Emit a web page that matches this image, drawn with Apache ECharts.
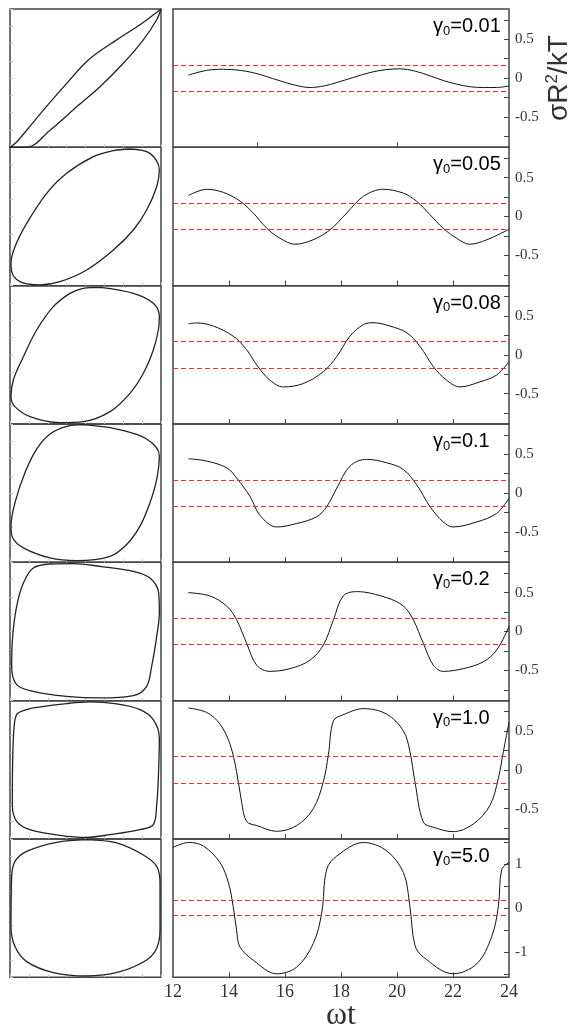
<!DOCTYPE html>
<html>
<head>
<meta charset="utf-8">
<script src="https://cdn.jsdelivr.net/npm/echarts@6/dist/echarts.min.js"></script>
<style>
html,body{margin:0;padding:0;background:#fff;}
#main{width:576px;height:1024px;}
</style>
</head>
<body>
<div id="main"></div>
<script>
// amplitude of each row
var gammaLabels = ['0.01', '0.05', '0.08', '0.1', '0.2', '1.0', '5.0'];
// half range of the stress axis per row
var yLimits = [0.89, 0.89, 0.89, 0.89, 0.89, 0.89, 1.58];
var redLevel = 0.17;
var yTicksSmall = [-0.75, -0.5, -0.25, 0, 0.25, 0.5, 0.75];
var yLabelsSmall = [-0.5, 0, 0.5];
var yTicksBig = [-1.5, -1, -0.5, 0, 0.5, 1, 1.5];
var yLabelsBig = [-1, 0, 1];
var xTicksTop = [15, 20];
var xTicks = [14, 16, 18, 20, 22];

// stress vs wt
var ts1 = [[12.55,0.04],[13.2,0.1],[13.8,0.115],[14.4,0.1],[14.87,0.07],[15.35,0.02],[15.82,-0.034],[16.36,-0.09],[16.89,-0.12],[17.4,-0.1],[17.85,-0.056],[18.45,0.01],[19.04,0.073],[19.6,0.11],[20.1,0.12],[20.65,0.09],[21.18,0.03],[21.65,-0.03],[22.13,-0.077],[22.6,-0.11],[23.08,-0.12],[23.55,-0.12],[24.0,-0.1]];
var ts2 = [[12.55,0.27],[13.2,0.35],[13.8,0.31],[14.4,0.196],[14.87,0.043],[15.35,-0.152],[15.82,-0.28],[16.36,-0.357],[17.0,-0.3],[17.6,-0.174],[18.2,0.043],[18.8,0.26],[19.51,0.35],[20.23,0.3],[20.7,0.196],[21.18,0.022],[21.65,-0.152],[22.13,-0.28],[22.6,-0.357],[23.2,-0.3],[24.0,-0.165]];
var ts3 = [[12.55,0.4],[12.85,0.41],[13.44,0.37],[14.15,0.24],[14.63,0.065],[14.99,-0.13],[15.46,-0.326],[15.94,-0.413],[16.65,-0.37],[17.37,-0.217],[17.85,-0.022],[18.32,0.24],[18.8,0.39],[19.15,0.413],[19.75,0.37],[20.35,0.283],[20.82,0.109],[21.3,-0.152],[21.77,-0.326],[22.25,-0.413],[22.96,-0.348],[23.56,-0.26],[24.0,-0.087]];
var ts4 = [[12.55,0.443],[13.2,0.413],[13.92,0.326],[14.27,0.196],[14.75,-0.043],[15.1,-0.283],[15.7,-0.435],[16.42,-0.391],[17.13,-0.304],[17.49,-0.174],[17.85,0.065],[18.32,0.348],[18.92,0.435],[19.63,0.391],[20.23,0.304],[20.7,0.109],[21.18,-0.174],[21.65,-0.37],[22.0,-0.435],[22.85,-0.37],[23.56,-0.26],[24.0,-0.065]];
var ts5 = [[12.55,0.5],[13.32,0.457],[13.92,0.326],[14.27,0.152],[14.63,-0.152],[14.99,-0.435],[15.46,-0.513],[16.18,-0.478],[16.89,-0.37],[17.37,-0.174],[17.73,0.152],[18.08,0.457],[18.56,0.513],[19.63,0.435],[20.23,0.326],[20.58,0.152],[20.94,-0.152],[21.3,-0.435],[21.65,-0.513],[22.37,-0.478],[23.08,-0.39],[23.56,-0.239],[24.0,0.065]];
var ts6 = [[12.55,0.796],[13.2,0.739],[13.68,0.587],[14.04,0.326],[14.27,-0.022],[14.45,-0.413],[14.63,-0.665],[14.99,-0.717],[15.7,-0.791],[16.42,-0.717],[17.01,-0.5],[17.37,-0.152],[17.55,0.196],[17.73,0.63],[18.08,0.709],[18.8,0.787],[19.63,0.717],[20.23,0.5],[20.46,0.239],[20.64,-0.152],[20.94,-0.674],[21.3,-0.739],[22.0,-0.796],[22.73,-0.696],[23.32,-0.457],[23.62,-0.109],[23.8,0.239],[24.0,0.609]];
var ts7 = [[12.0,1.385],[12.55,1.5],[13.08,1.42],[13.68,1.04],[13.98,0.577],[14.15,0.038],[14.27,-0.5],[14.39,-0.885],[14.87,-1.19],[15.7,-1.5],[16.42,-1.346],[17.01,-0.808],[17.31,-0.115],[17.49,0.885],[17.85,1.19],[18.8,1.5],[19.63,1.31],[20.23,0.808],[20.46,0.038],[20.64,-0.846],[20.94,-1.115],[22.0,-1.5],[22.85,-1.27],[23.38,-0.654],[23.62,0.038],[23.74,0.885],[24.0,1.04]];

// normalized stress vs normalized strain
var loop1 = [[1.0,1.0],[0.722,0.772],[0.413,0.554],[0.038,0.264],[-0.249,-0.075],[-0.558,-0.462],[-0.779,-0.753],[-0.912,-0.923],[-1.0,-1.0],[-0.779,-1.0],[-0.47,-0.753],[-0.117,-0.414],[0.192,-0.123],[0.501,0.215],[0.766,0.554],[0.943,0.845],[1.0,1.0]];
var loop2 = [[0.589,0.976],[0.854,0.913],[0.978,0.672],[0.943,0.431],[0.81,0.094],[0.634,-0.195],[0.369,-0.484],[0.015,-0.773],[-0.338,-0.942],[-0.603,-0.99],[-0.868,-0.942],[-0.978,-0.798],[-0.987,-0.677],[-0.934,-0.436],[-0.779,-0.099],[-0.514,0.335],[-0.249,0.624],[0.104,0.865],[0.369,0.952],[0.589,0.976]];
var loop3 = [[0.192,0.976],[0.634,0.889],[0.898,0.745],[0.978,0.552],[0.965,0.359],[0.898,0.07],[0.766,-0.267],[0.589,-0.557],[0.325,-0.822],[-0.029,-0.966],[-0.338,-0.981],[-0.735,-0.894],[-0.934,-0.749],[-0.987,-0.605],[-0.956,-0.364],[-0.823,-0.027],[-0.647,0.359],[-0.426,0.696],[-0.205,0.889],[-0.029,0.961],[0.192,0.976]];
var loop4 = [[-0.029,0.99],[0.413,0.927],[0.81,0.782],[0.978,0.54],[0.943,0.201],[0.854,-0.138],[0.722,-0.477],[0.545,-0.743],[0.325,-0.913],[-0.117,-0.976],[-0.47,-0.937],[-0.823,-0.792],[-0.965,-0.646],[-0.987,-0.477],[-0.934,-0.138],[-0.801,0.298],[-0.647,0.637],[-0.47,0.855],[-0.249,0.966],[-0.029,0.99]];
var loop5 = [[-0.47,0.976],[-0.161,0.981],[0.192,0.942],[0.634,0.87],[0.854,0.773],[0.969,0.557],[0.978,0.267],[0.943,-0.07],[0.876,-0.504],[0.81,-0.793],[0.634,-0.928],[0.192,-0.961],[-0.249,-0.937],[-0.691,-0.865],[-0.912,-0.769],[-0.978,-0.504],[-0.965,-0.07],[-0.912,0.364],[-0.823,0.701],[-0.691,0.918],[-0.47,0.976]];
var loop6 = [[-0.823,0.855],[-0.691,0.894],[-0.249,0.957],[0.06,0.981],[0.413,0.952],[0.722,0.87],[0.898,0.725],[0.978,0.46],[0.965,-0.118],[0.943,-0.504],[0.898,-0.793],[0.722,-0.865],[0.325,-0.937],[0.015,-0.976],[-0.338,-0.947],[-0.735,-0.865],[-0.912,-0.745],[-0.969,-0.504],[-0.965,0.123],[-0.947,0.605],[-0.912,0.798],[-0.823,0.855]];
var loop7 = [[0.015,0.99],[0.413,0.942],[0.766,0.768],[0.943,0.604],[0.987,0.362],[0.987,-0.314],[0.943,-0.58],[0.81,-0.749],[0.457,-0.918],[0.015,-0.981],[-0.426,-0.932],[-0.779,-0.773],[-0.934,-0.556],[-0.987,-0.266],[-0.978,0.459],[-0.934,0.676],[-0.779,0.821],[-0.382,0.952],[0.015,0.99]];

var timeSeries = [ts1, ts2, ts3, ts4, ts5, ts6, ts7];
var loops = [loop1, loop2, loop3, loop4, loop5, loop6, loop7];

(function () {
  var serif = 'Liberation Serif', sans = 'Liberation Sans';
  var rowTop0 = 9, rowH = 138.33;
  var grids = [], xAxes = [], yAxes = [], series = [], graphics = [];
  var faintTick = {inside: true, length: 3, lineStyle: {color: '#c4c4c4'}};

  for (var i = 0; i < 7; i++) {
    var rowY = rowTop0 + i * rowH;
    var big = i === 6;
    grids.push({left: 10, top: rowY, width: 151, height: rowH, show: true, outerBoundsMode: 'none',
      borderColor: '#444', borderWidth: 1.5});
    grids.push({left: 173, top: rowY, width: 336, height: rowH, show: true, outerBoundsMode: 'none',
      borderColor: '#444', borderWidth: 1.5});

    // loop panel (strain vs stress, both scaled to +-1)
    xAxes.push({type: 'value', gridIndex: 2 * i, min: -1, max: 1, interval: 0.25,
      axisLine: {show: false, onZero: false}, axisLabel: {show: false}, splitLine: {show: false},
      axisTick: faintTick});
    yAxes.push({type: 'value', gridIndex: 2 * i, min: -1, max: 1, interval: 0.25,
      axisLine: {show: false, onZero: false}, axisLabel: {show: false}, splitLine: {show: false},
      axisTick: faintTick});

    // time panel
    xAxes.push({type: 'value', gridIndex: 2 * i + 1, min: 12, max: 24, interval: 2,
      axisLine: {show: false, onZero: false}, splitLine: {show: false},
      axisTick: {inside: true, length: 5, lineStyle: {color: '#444'}, customValues: i === 0 ? xTicksTop : xTicks},
      axisLabel: {show: big, fontFamily: serif, fontSize: 18, color: '#333', margin: 6},
      name: big ? 'ωt' : '', nameLocation: 'middle', nameGap: 22, nameMoveOverlap: false,
      nameTextStyle: {fontFamily: serif, fontSize: 32, color: '#333'}});
    var yAx = {type: 'value', gridIndex: 2 * i + 1, position: 'right', min: -yLimits[i], max: yLimits[i],
      axisLine: {show: false, onZero: false}, splitLine: {show: false},
      axisTick: {inside: true, length: 5, lineStyle: {color: '#444'}, customValues: big ? yTicksBig : yTicksSmall},
      axisLabel: {fontFamily: serif, fontSize: 15, color: '#333', margin: 6, customValues: big ? yLabelsBig : yLabelsSmall}};
    if (i === 0) {
      yAx.name = '{a|σR}{b|2}{a|/kT}';
      yAx.nameLocation = 'middle';
      yAx.nameRotate = 90;
      yAx.nameGap = 35;
      yAx.nameMoveOverlap = false;
      yAx.nameTextStyle = {rich: {
        a: {fontFamily: sans, fontSize: 28, color: '#333', lineHeight: 30},
        b: {fontFamily: sans, fontSize: 17, color: '#333', lineHeight: 20, verticalAlign: 'top'}
      }};
    }
    yAxes.push(yAx);

    series.push({type: 'line', xAxisIndex: 2 * i, yAxisIndex: 2 * i, data: loops[i],
      smooth: 0.35, showSymbol: false, symbol: 'none', lineStyle: {color: '#222', width: 1.3}});
    series.push({type: 'line', xAxisIndex: 2 * i + 1, yAxisIndex: 2 * i + 1, data: timeSeries[i],
      smooth: 0.35, showSymbol: false, symbol: 'none', lineStyle: {color: '#111', width: 1},
      markLine: {silent: true, symbol: 'none', label: {show: false},
        lineStyle: {color: '#f0282d', type: [5, 3], width: 1},
        data: [{yAxis: redLevel}, {yAxis: -redLevel}]}});

    graphics.push({type: 'text', left: 433, top: rowY + 7.5, silent: true,
      style: {text: '{g|γ}{s|0}{g|=' + gammaLabels[i] + '}',
        rich: {
          g: {fontFamily: sans, fontSize: 20, color: '#333', lineHeight: 22},
          s: {fontFamily: sans, fontSize: 13, color: '#333', lineHeight: 6, verticalAlign: 'bottom'}
        }}});
  }

  var chart = echarts.init(document.getElementById('main'));
  chart.setOption({
    animation: false,
    backgroundColor: '#fff',
    grid: grids,
    xAxis: xAxes,
    yAxis: yAxes,
    series: series,
    graphic: graphics
  });
})();
</script>
</body>
</html>
